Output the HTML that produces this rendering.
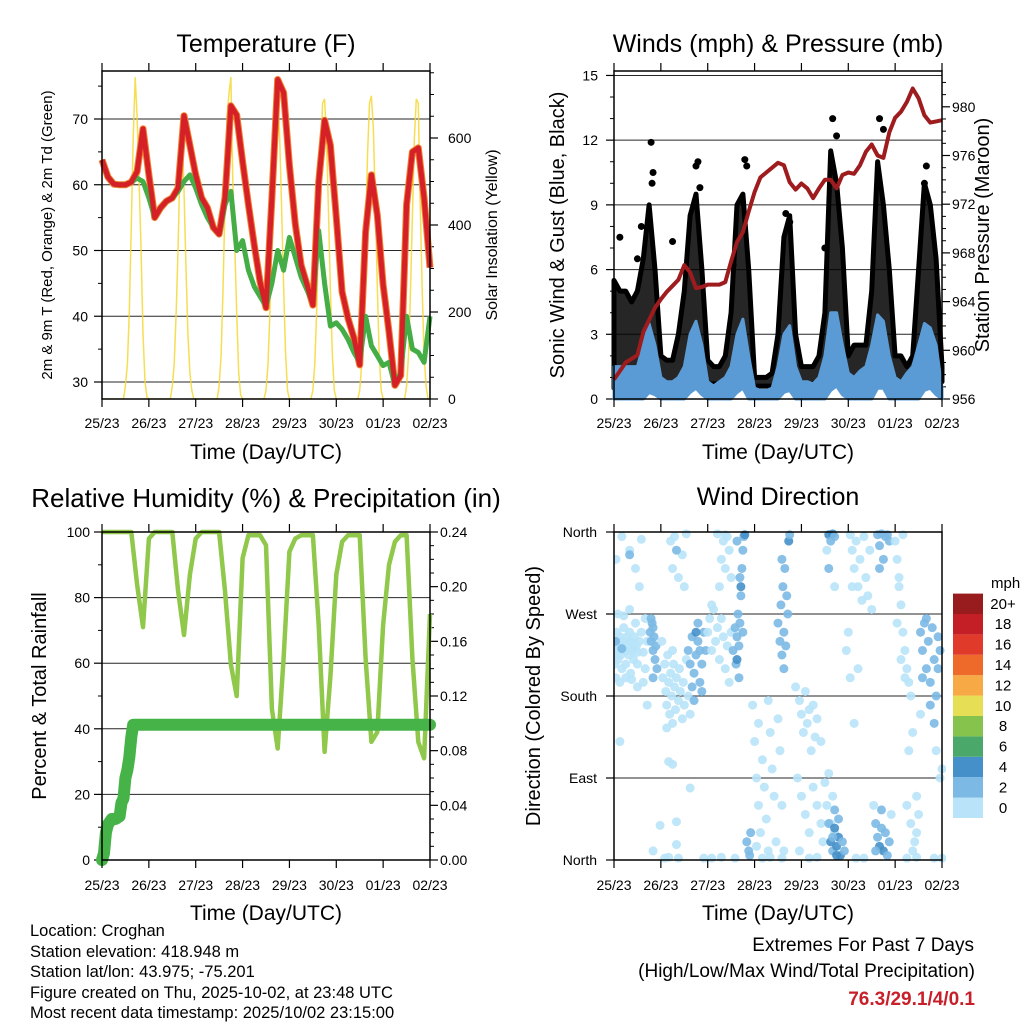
<!DOCTYPE html>
<html><head><meta charset="utf-8"><style>
html,body{margin:0;padding:0;background:#fff;}
svg{display:block;font-family:"Liberation Sans",sans-serif;}
</style></head><body>
<svg id="root" xmlns="http://www.w3.org/2000/svg" width="1024" height="1024" viewBox="0 0 1024 1024">
<g id="lay"></g>
</svg>
<script>
// ===== DATA =====
const dayLabels = ["25/23","26/23","27/23","28/23","29/23","30/23","01/23","02/23"];
// 3-hourly values, hour 0..168
const tempF = [63.8,61.2,60.1,60,60,60.4,62,68.5,61.5,55,56.5,57.5,58,59.5,70.5,66,61.5,58,56.5,53.5,52.5,58,72,70.6,63.5,57,50.8,45.2,41.3,58,76,74,63,54,47.8,44.8,41.7,60.4,69.8,66,55,43.7,39.7,36.7,32.6,52.8,61.5,55.4,44.8,37.6,29.5,31,57,65,65.6,58,47.4];
const dewF = [63.8,61.2,60.1,60,60,60.4,61,60.5,58,55,56.5,57.5,58,59,60.5,61.5,59.5,57,55,53.5,52.5,57,59,50,51.5,47,44.5,43,41.5,45,50,47,52,49,46,44,42,53,45,38.5,39,38,36.5,34.5,33,40,35.5,34,32.5,33,29.5,31.5,40,35,34.5,33,40];
// hourly solar insolation, hour 0..168
const solar = [
0,0,0,0,0,0,0,0,0,0,0,0,30,80,200,400,600,740,650,500,350,150,40,5,
0,0,0,0,0,0,0,0,0,0,0,0,30,80,200,350,550,630,480,300,150,60,20,0,
0,0,0,0,0,0,0,0,0,0,0,0,30,100,250,450,650,700,740,500,350,200,60,10,
0,0,0,0,0,0,0,0,0,0,0,0,20,80,200,380,560,690,700,600,440,260,110,20,
0,0,0,0,0,0,0,0,0,0,0,0,20,80,210,390,560,680,690,600,430,250,100,20,
0,0,0,0,0,0,0,0,0,0,0,0,20,80,200,380,560,680,697,620,450,260,100,20,
0,0,0,0,0,0,0,0,0,0,0,0,30,100,250,420,600,690,680,450,250,100,30,0,
0];
const pressure = [957.6,958.3,959,959.3,959.6,961.5,962.5,963.5,964.2,964.8,965.3,965.8,967,966.4,965.1,965.2,965.4,965.4,965.4,965.6,967.3,968.9,969.7,971.4,973,974.2,974.6,975,975.4,975.2,973.8,973.2,973.7,973.3,972.5,973.3,974,974,973.3,974.4,974.6,974.5,975.2,976.3,976.9,976,975.8,977.9,979.1,979.6,980.4,981.5,980.7,979.3,978.7,978.8,978.9];
const windHi = [1.5,1.5,1.5,1.5,1.5,2.5,3.5,2.5, 1,.8,.8,1,1.5,3,3.6,2.5, .8,.6,.8,1,1.5,3,3.7,2, .5,.4,.4,.5,1.5,3,3.4,1.5, .8,.8,.7,1,2,4,4,2.5, 1.2,1,1.3,1.5,2.5,3.9,3.6,2, 1,.8,1.2,1.5,2.5,3.5,3.3,2.5, .5];
const windLo = [0,0,0,0,0,0,.3,.2, 0,0,0,0,0,.3,.5,.2, 0,0,0,0,0,.3,.5,0, 0,0,0,0,0,.3,.4,0, 0,0,0,0,0,.4,.6,.2, 0,0,0,0,0,.5,.5,0, 0,0,0,0,0,.4,.5,.2, 0];
const gustHi = [5.5,5,5,4.5,5,6.5,9,6, 2,1.8,1.8,3,5,8.5,9.5,6, 1.8,1.5,1.5,2,4,9,9.5,6, 1,1,1,1.2,3,7.5,8.5,3, 1.5,1.5,1.5,2,4,11.5,10,7, 2,2.5,2.5,2.5,5,11,9,6, 2,2,1.5,2,6,10,9,6.5, 1.5];
const gustLo = [0.5,0.5,0.5,0.5,0.5,0.8,1.2,1, 0.7,0.7,0.7,0.7,0.8,1.2,1.5,1, 0.7,0.7,0.7,0.7,0.8,1.2,1.5,1, 0.6,0.6,0.6,0.6,0.7,1.2,1.5,0.8, 0.7,0.7,0.7,0.7,0.9,1.5,1.5,1, 0.8,0.8,0.8,0.8,1,1.5,1.5,1, 0.8,0.8,0.8,0.8,1,1.5,1.5,1, 0.8];
const gustOutHours = [19,19.5,43,42,67,68,14,12,88,112,136,159,108,3,30,61,20,44,90,114,138,160];
const gustOutMph =   [11.9,10,11,10.8,11.1,10.8,8,6.5,8.6,13,13,10,7,7.5,7.3,6.2,10.5,9.8,8.2,12.2,12.5,10.8];
const rh = [100,100,100,100,100,100,84,71,98,100,100,100,100,82,68.6,87,98,100,100,100,100,82,59.5,50,92,99,99,99,96,46,34,61.5,94,98,99,99,99,71.6,33,56,87,97,99,99,99,61.5,36,39,71.6,90,97,99,99,61.5,36,31,75];
const precipHours = [0,1,2,3,5,7,9,10,11,12,13,14,15,16,168];
const precipIn =    [0,0.005,0.02,0.026,0.03,0.03,0.032,0.042,0.045,0.06,0.066,0.075,0.09,0.099,0.099];
// wind direction observations: [hour, degrees, mph]
const dirObs = [
[0.5,240,1],[1,230,1],[1.5,250,1],[2,220,1],[2.5,235,1],[3,245,1],[3.5,225,1],[4,210,1],[4.5,240,1],[5,255,1],[5.5,230,1],[6,215,1],[6.5,245,1],[7,235,1],[7.5,225,1],[8,250,1],[8.5,205,1],[9,240,1],[9.5,230,1],[10,220,1],[10.5,245,1],[11,260,1],[11.5,235,1],[12,215,1],[13,240,1],[14,250,1],[15,228,1],[16,265,1],[17,240,1],[1,200,1],[3,195,1],[6,200,1],[9,198,1],[12,190,1],[2,270,1],[5,268,1],[8,275,1],[1,330,1],[4,355,1],[8,340,1],[11,320,1],[14,352,1],[13,300,1],[3,130,1],[15,195,1],[17,170,1],[2,225,1],[4,235,1],[6,230,1],[8,240,1],[10,232,1],[12,228,1],[0.5,215,1],[16,210,1],
[0.8,240,3],[4,232,3],[18.5,250,3],[19,240,3],[19.5,260,3],[20,230,3],[20.5,245,3],[21,220,3],[19,265,3],[20,255,3],[21.5,235,3],[20,200,3],[22,210,3],[8,335,3],
[25,200,1],[26,215,1],[26.5,185,1],[27,170,1],[27.5,225,1],[28,195,1],[28.5,160,1],[29,205,1],[29.5,180,1],[30,150,1],[30.5,215,1],[31,190,1],[31.5,165,1],[32,200,1],[33,175,1],[33.5,210,1],[34,185,1],[35,155,1],[35.5,195,1],[36,170,1],[37,220,1],[38,180,1],[39,160,1],[30,230,1],[24.5,240,1],[27,145,1],
[29,350,1],[30,320,1],[31,355,1],[33,310,1],[35,335,1],[36,300,1],[37,358,1],[32,340,3],[28,108,1],[39,79,1],[32,42,1],[32,17,1],[23.6,38,1],[20,10,1],[30,105,1],
[38,230,3],[39,215,3],[40,245,3],[41,205,3],[42,225,3],[43,240,3],[44,195,3],[45,215,3],[46,250,3],[47,230,3],[41,175,3],[43,260,3],[40,190,3],[42,250,4],[44,230,3],[45,185,3],
[26,2,1],[28,3,1],[33,2,1],[46,2,1],[50,2,1],[55,3,1],[62,2,1],[76,2,1],[80,3,1],[86,2,1],[100,2,1],[104,3,1],[124,2,1],[128,2,1],[150,2,1],[155,3,1],[164,2,1],[168,2,1],
[48,250,1],[49,265,1],[50,230,1],[51,275,1],[52,240,1],[53,255,1],[54,220,1],[55,265,1],[56,245,1],[57,210,1],[58,235,1],[59,195,1],[60,250,1],[50,280,1],[54,300,1],[55,330,1],[56,350,1],[57,320,1],[58,355,1],[59,340,1],[60,310,1],[53,358,1],[57,357,1],
[61,230,3],[62,255,3],[62.5,215,3],[63,245,3],[63.5,270,3],[64,235,3],[64.5,260,3],[65,290,3],[65.5,320,3],[66,340,3],[66.5,355,3],[67,357,4],[65,300,4],[64,200,3],[63,220,4],[66,250,3],[64.5,310,3],[63,350,3],
[71,170,1],[72,130,1],[73,90,1],[74,60,1],[75,30,1],[74,150,1],[76,110,1],[77,80,1],[78,45,1],[79,175,1],[80,140,1],[81,100,1],[82,70,1],[83,20,1],[84,155,1],[85,120,1],[86,60,1],[87,10,1],[73,15,1],[79,10,1],
[68,20,3],[69,10,3],[70,30,3],[69.5,5,3],
[84,260,3],[85,240,3],[85.5,280,3],[86,225,3],[86.5,300,3],[87,250,3],[87.5,320,3],[88,235,3],[89,270,3],[89.5,350,4],[90,357,3],[88.5,290,3],[86,330,3],[87,210,3],
[93,190,1],[95,175,1],[96,160,1],[97,140,1],[98,185,1],[99,150,1],[100,165,1],[101,120,1],[102,170,1],[103,135,1],[104,155,1],[106,130,1],[94,90,1],[96,70,1],[98,50,1],[100,30,1],[102,80,1],[104,60,1],[106,40,1],[107,20,1],[95,10,1],
[108,85,1],[109,60,1],[110,95,1],[111,40,1],[112,70,1],[113,30,1],
[110,40,3],[111,20,4],[112,10,3],[113,35,5],[114,15,4],[115,25,5],[116,5,4],[117,20,3],[113,55,3],[114,5,5],[115,45,3],[118,10,3],[112,25,3],
[110,357,4],[111,350,3],[112,358,4],[113,355,3],[110,320,3],[109,340,1],[113,300,1],
[121,357,1],[122,340,1],[123,320,1],[124,350,1],[125,300,1],[126,330,1],[127,285,1],[128,355,1],[129,310,1],[130,290,1],[131,340,1],[132,275,1],[122,300,1],[120,250,1],[119,230,1],[121,200,1],[123,150,1],[125,210,1],
[135,357,3],[136,345,3],[137,358,3],[138,330,3],[139,355,3],[140,357,3],[141,350,3],[136,320,3],
[133,60,1],[134,40,3],[135,25,3],[136,15,4],[137,35,3],[138,10,4],[139,30,3],[140,5,3],[141,20,3],[142,50,1],[134,10,3],[137,55,3],
[144,350,1],[145,330,1],[146,300,1],[147,280,1],[148,250,1],[149,230,1],[150,210,1],[151,195,1],[152,180,1],[145,260,1],[147,220,1],[149,200,1],[146,310,1],[148,357,1],[151,120,1],[153,140,1],[150,60,1],[152,40,1],[154,20,1],[155,70,1],[156,50,1],[153,10,1],[155,30,1],[157,160,1],
[157,250,3],[158,230,3],[159,260,3],[160,210,3],[161,240,3],[162,195,3],[163,255,3],[164,220,3],[165,180,3],[166,245,3],[158,200,3],[160,265,3],[162,170,3],[164,150,3],[166,210,3],[167,230,3],
[165,120,1],[167,90,1],[168,100,1]
];
const speedLabels = ["0","2","4","6","8","10","12","14","16","18","20+"];
const speedColors = ["#b8e3f8","#7cb9e4","#4690c9","#4aa86a","#85c34c","#e6df55","#f6a944","#ee6a2b","#e03a2a","#c41f26","#981b1e"];

// ===== DRAWING =====
const NS="http://www.w3.org/2000/svg";
const lay=document.getElementById('lay');
function mk(tag,attrs,parent){const e=document.createElementNS(NS,tag);for(const k in attrs)e.setAttribute(k,attrs[k]);(parent||lay).appendChild(e);return e;}
function txt(s,x,y,size,anchor,parent,extra){const t=mk('text',Object.assign({x:x,y:y,'font-size':size,'text-anchor':anchor||'start',fill:'#000'},extra||{}),parent);t.textContent=s;return t;}
function hours3(i){return i*3;}

function panel(name,x0,x1,y0,y1){
  const g=mk('g',{});
  
  
  return {g:g,x0:x0,x1:x1,y0:y0,y1:y1,xs:function(h){return x0+h/168*(x1-x0);}};
}
function frame(P){
  const r=mk('rect',{x:P.x0,y:P.y0,width:P.x1-P.x0,height:P.y1-P.y0,fill:'none',stroke:'#000','stroke-width':1.5},P.g);
  
  
}
function xAxis(P,labelY,titleY){
  const ax=mk('g',{},P.g);
  
  
  for(let d=0;d<=7;d++){
    const x=P.xs(d*24);
    mk('line',{x1:x,y1:P.y1,x2:x,y2:P.y1+8,stroke:'#000','stroke-width':1.2},ax);
    mk('line',{x1:x,y1:P.y0,x2:x,y2:P.y0-8,stroke:'#000','stroke-width':1.2},ax);
    const t=txt(dayLabels[d],x,labelY,14,'middle',ax);
    
    
  }
  const tt=txt('Time (Day/UTC)',(P.x0+P.x1)/2,titleY,21,'middle',ax);
  
  
}
function yTicks(P,side,vals,fy,labels,minorVals,grid,labelX){
  const ax=mk('g',{},P.g);
  
  
  const xe=side==='left'?P.x0:P.x1, dir=side==='left'?-1:1;
  minorVals.forEach(v=>{const y=fy(v);mk('line',{x1:xe,y1:y,x2:xe+dir*4,y2:y,stroke:'#000','stroke-width':1},ax);});
  vals.forEach((v,i)=>{
    const y=fy(v);
    if(grid) mk('line',{x1:P.x0,y1:y,x2:P.x1,y2:y,stroke:'#000','stroke-width':1,'stroke-opacity':0.85},ax);
    mk('line',{x1:xe,y1:y,x2:xe+dir*8,y2:y,stroke:'#000','stroke-width':1.2},ax);
    const t=txt(labels[i],labelX,y+5,14,side==='left'?'end':'start',ax);
    
    
  });
}
function vtitle(s,x,y,size,parent,name){
  const t=txt(s,x,y,size,'middle',parent,{transform:'rotate(-90 '+x+' '+y+')'});
  
  
}
function title(s,x,y,parent,name,size){
  const t=txt(s,x,y,size||25,'middle',parent);
  
  
}
function linePath(P,arr,hf,fy){return arr.map((v,i)=>(i?'L':'M')+P.xs(hf(i)).toFixed(1)+','+fy(v).toFixed(1)).join('');}

// ---- Panel 1: Temperature ----
(function(){
  const P=panel('temperature-panel',102,430,71,399);
  const yT=v=>119+(70-v)*6.575, yS=v=>399-v*0.435;
  title('Temperature (F)',266,52,P.g,'temperature-title');
  yTicks(P,'left',[30,40,50,60,70],yT,['30','40','50','60','70'],[35,45,55,65,75],true,88);
  const sm=[];for(let v=50;v<=750;v+=50)sm.push(v);
  yTicks(P,'right',[0,200,400,600],yS,['0','200','400','600'],sm,false,448);
  const clip=mk('clipPath',{id:'c1'},P.g);mk('rect',{x:P.x0,y:P.y0,width:P.x1-P.x0,height:P.y1-P.y0},clip);
  const s=mk('path',{d:linePath(P,solar,i=>i,yS),fill:'none',stroke:'#f5d835','stroke-width':1.5,'stroke-opacity':0.85,'clip-path':'url(#c1)'},P.g);
  
  
  const o=mk('path',{d:linePath(P,tempF,hours3,yT),fill:'none',stroke:'#f07f2e','stroke-width':7,'stroke-linejoin':'round'},P.g);
  
  
  const d=mk('path',{d:linePath(P,dewF,hours3,yT),fill:'none',stroke:'#44ad45','stroke-width':5,'stroke-linejoin':'round'},P.g);
  
  
  const r=mk('path',{d:linePath(P,tempF,hours3,yT),fill:'none',stroke:'#d62027','stroke-width':5,'stroke-linejoin':'round'},P.g);
  
  
  frame(P);xAxis(P,428,459);
  vtitle('2m & 9m T (Red, Orange) & 2m Td (Green)',52,235,15,P.g,'temperature-y-axis-title');
  vtitle('Solar Insolation (Yellow)',497,235,16,P.g,'solar-y-axis-title');
})();

// ---- Panel 2: Winds & Pressure ----
(function(){
  const P=panel('winds-pressure-panel',614,942,71,399);
  const yW=v=>399-v*21.57, yP=p=>399-(p-956)*12.175;
  title('Winds (mph) & Pressure (mb)',778,52,P.g,'winds-title');
  const wm=[];for(let v=1;v<=15;v++)if(v%3)wm.push(v);
  yTicks(P,'left',[0,3,6,9,12,15],yW,['0','3','6','9','12','15'],wm,true,598);
  const pm=[];for(let v=957;v<=982;v++)if(v%4)pm.push(v);
  yTicks(P,'right',[956,960,964,968,972,976,980],yP,['956','960','964','968','972','976','980'],pm,false,952);
  const band=(hi,lo)=>{let s='';hi.forEach((v,i)=>{s+=(i?'L':'M')+P.xs(i*3).toFixed(1)+','+yW(v).toFixed(1);});for(let i=lo.length-1;i>=0;i--)s+='L'+P.xs(i*3).toFixed(1)+','+yW(lo[i]).toFixed(1);return s+'Z';};
  const gb=mk('path',{d:band(gustHi,gustLo),fill:'#000','fill-opacity':0.85,stroke:'#000','stroke-width':5,'stroke-linejoin':'round'},P.g);
  
  
  gustOutHours.forEach((h,i)=>{
    const c=mk('circle',{cx:P.xs(h),cy:yW(gustOutMph[i]),r:3.5,fill:'#000'},P.g);
    
    
  });
  const wb=mk('path',{d:band(windHi,windLo),fill:'#5b9bd5',stroke:'#5b9bd5','stroke-width':3,'stroke-linejoin':'round'},P.g);
  
  
  const pl=mk('path',{d:linePath(P,pressure,hours3,yP),fill:'none',stroke:'#9e1b1e','stroke-width':4,'stroke-linejoin':'round'},P.g);
  
  
  frame(P);xAxis(P,428,459);
  vtitle('Sonic Wind & Gust (Blue, Black)',564,235,20,P.g,'wind-y-axis-title');
  vtitle('Station Pressure (Maroon)',989,235,20,P.g,'pressure-y-axis-title');
})();

// ---- Panel 3: RH & Precip ----
(function(){
  const P=panel('humidity-precip-panel',102,430,532,860);
  const yR=v=>860-v*3.28, yPr=p=>860-p*1366.7;
  title('Relative Humidity (%) & Precipitation (in)',266,507,P.g,'humidity-title',26);
  yTicks(P,'left',[0,20,40,60,80,100],yR,['0','20','40','60','80','100'],[10,30,50,70,90],true,90);
  const pm=[];for(let v=0.01;v<0.24;v+=0.01){if(Math.round(v*100)%4)pm.push(v);}
  yTicks(P,'right',[0,0.04,0.08,0.12,0.16,0.20,0.24],yPr,['0.00','0.04','0.08','0.12','0.16','0.20','0.24'],pm,false,440);
  const rl=mk('path',{d:linePath(P,rh,hours3,yR),fill:'none',stroke:'#8fc84a','stroke-width':4.5,'stroke-linejoin':'round'},P.g);
  
  
  const pd=precipIn.map((v,i)=>(i?'L':'M')+P.xs(precipHours[i]).toFixed(1)+','+yPr(v).toFixed(1)).join('');
  const pr=mk('path',{d:pd,fill:'none',stroke:'#46b348','stroke-width':12,'stroke-linecap':'round','stroke-linejoin':'round'},P.g);
  
  
  frame(P);xAxis(P,890,920);
  vtitle('Percent & Total Rainfall',46,696,20,P.g,'humidity-y-axis-title');
})();

// ---- Panel 4: Wind direction ----
(function(){
  const P=panel('wind-direction-panel',614,942,532,860);
  const yD=d=>860-d*0.9111;
  title('Wind Direction',778,505,P.g,'wind-direction-title');
  yTicks(P,'left',[0,90,180,270,360],yD,['North','East','South','West','North'],[],true,597);
  const clip=mk('clipPath',{id:'c4'},P.g);mk('rect',{x:P.x0,y:P.y0-4,width:P.x1-P.x0+4,height:P.y1-P.y0+8},clip);
  const dg=mk('g',{'clip-path':'url(#c4)'},P.g);
  dirObs.forEach(o=>{
    const c=mk('circle',{cx:P.xs(o[0]),cy:yD(o[1]),r:4.5,fill:speedColors[Math.min(10,Math.floor(o[2]/2))],'fill-opacity':0.9},dg);
    
    
  });
  frame(P);xAxis(P,890,920);
  vtitle('Direction (Colored By Speed)',540,696,20,P.g,'direction-y-axis-title');
  const lg=mk('g',{},P.g);
  
  
  const t0=txt('mph',991,588,15,'start',lg);
  
  
  const bh=20.4;
  speedColors.forEach((col,i)=>{
    const y=818-(i+1)*bh;
    const r=mk('rect',{x:953,y:y,width:30,height:bh,fill:col},lg);
    
    
    const t=txt(speedLabels[i],1003,y+bh/2+5,15,'middle',lg);
    
    
  });
})();

// ---- Footer text ----
(function(){
  const g=mk('g',{});
  
  
  const lines=['Location: Croghan','Station elevation: 418.948 m','Station lat/lon: 43.975; -75.201','Figure created on Thu, 2025-10-02, at 23:48 UTC','Most recent data timestamp: 2025/10/02 23:15:00'];
  const ys=[936,957,977,998,1018];
  lines.forEach((s,i)=>{const t=txt(s,30,ys[i],16.5,'start',g);});
  const e=mk('g',{});
  
  
  let t=txt('Extremes For Past 7 Days',974,951,19,'end',e);
  t=txt('(High/Low/Max Wind/Total Precipitation)',975,977,19,'end',e);
  t=txt('76.3/29.1/4/0.1',975,1005,19,'end',e,{fill:'#c8202a','font-weight':'bold'});
})();
</script>
</body></html>
